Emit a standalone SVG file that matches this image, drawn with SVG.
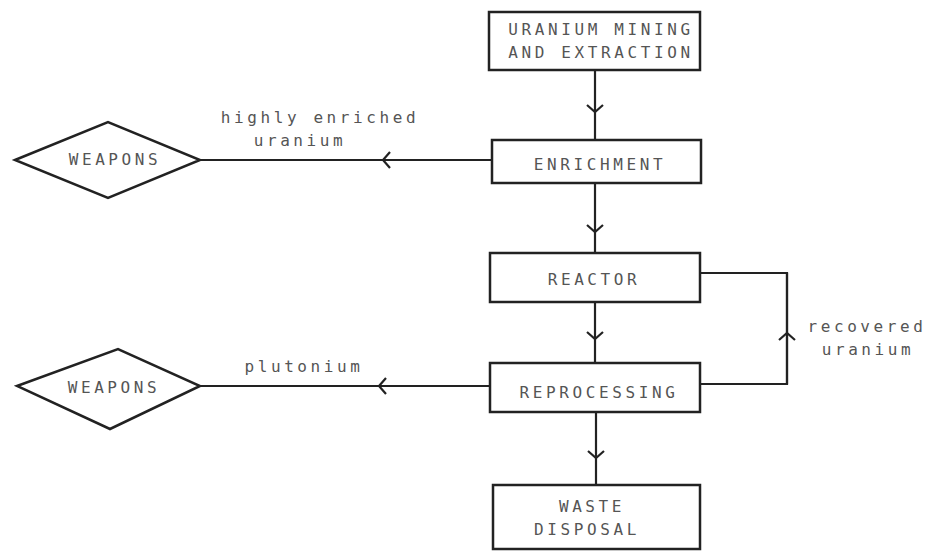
<svg xmlns="http://www.w3.org/2000/svg" width="930" height="552" viewBox="0 0 930 552">
<style>
.box{fill:none;stroke:#222;stroke-width:2.5}
.ln{fill:none;stroke:#222;stroke-width:2.2}
.con{fill:none;stroke:#222;stroke-width:2.2;marker-mid:url(#chev)}
.t{font-family:"DejaVu Sans Mono","Liberation Mono",monospace;font-size:16px;letter-spacing:3.6px;fill:#555;text-anchor:middle}
</style>
<defs>
<marker id="chev" markerUnits="userSpaceOnUse" markerWidth="20" markerHeight="20" refX="10" refY="10" orient="auto" viewBox="0 0 20 20">
<path d="M3,2 L10,10 L3,18" fill="none" stroke="#222" stroke-width="2.2"/>
</marker>
</defs>
<rect width="930" height="552" fill="#fff"/>
<g id="connectors">
<path class="con" d="M595,70 L595,112 L595,140"/>
<path class="con" d="M595,183 L595,232 L595,253"/>
<path class="con" d="M595,302 L595,339 L595,363"/>
<path class="con" d="M596,412 L596,458 L596,485"/>
<path class="con" d="M492,160 L383,160 L200,160"/>
<path class="con" d="M490,386 L379,386 L200,386"/>
<path class="ln" d="M700,384 L787,384 L787,273 L700,273"/>
<path class="con" d="M787,384 L787,333 L787,273"/>
</g>
<g id="mining"><rect class="box" x="489" y="12" width="211" height="58"/>
<text class="t" x="601" y="35">URANIUM MINING</text><text class="t" x="601" y="58">AND EXTRACTION</text></g>
<g id="enrichment"><rect class="box" x="492" y="140" width="209" height="43"/>
<text class="t" x="600" y="170">ENRICHMENT</text></g>
<g id="reactor"><rect class="box" x="490" y="253" width="210" height="49"/>
<text class="t" x="594" y="285">REACTOR</text></g>
<g id="reprocessing"><rect class="box" x="490" y="363" width="210" height="49"/>
<text class="t" x="599" y="398">REPROCESSING</text></g>
<g id="waste"><rect class="box" x="493" y="485" width="207" height="64"/>
<text class="t" x="592" y="512">WASTE</text><text class="t" x="587" y="535">DISPOSAL</text></g>
<g id="weapons1"><path class="box" d="M15,160 L108,122 L200,160 L108,198 Z"/>
<text class="t" x="115" y="165">WEAPONS</text></g>
<g id="weapons2"><path class="box" d="M17,386 L118,349 L200,386 L110,429 Z"/>
<text class="t" x="114" y="393">WEAPONS</text></g>
<g id="labels">
<text class="t" x="320" y="123">highly enriched</text>
<text class="t" x="300" y="146">uranium</text>
<text class="t" x="304" y="372">plutonium</text>
<text class="t" x="867" y="332">recovered</text>
<text class="t" x="868" y="355">uranium</text>
</g>
</svg>
